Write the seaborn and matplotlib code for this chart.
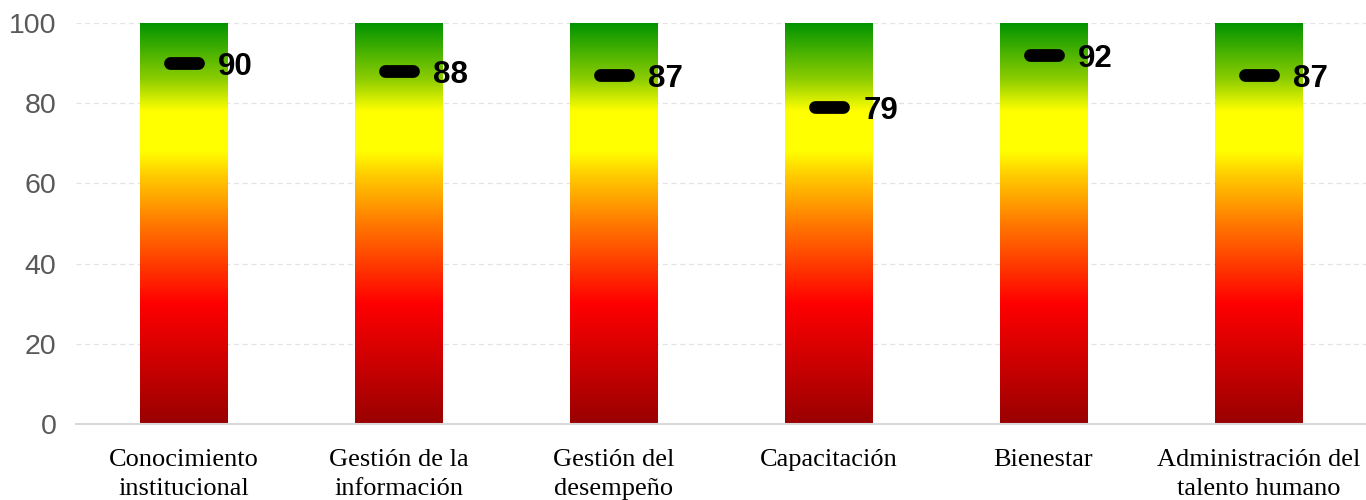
import numpy as np
import pandas as pd
import matplotlib
matplotlib.use("Agg")
import matplotlib.pyplot as plt
from matplotlib.colors import LinearSegmentedColormap
from matplotlib.markers import MarkerStyle
import seaborn as sns

# Dimensions of the talent-management assessment and their scores
categories = [
    "Conocimiento\ninstitucional",
    "Gestión de la\ninformación",
    "Gestión del\ndesempeño",
    "Capacitación",
    "Bienestar",
    "Administración del\ntalento humano",
]
scores = [90, 88, 87, 79, 92, 87]
scale_max = [100, 100, 100, 100, 100, 100]
y_ticks = [0, 20, 40, 60, 80, 100]

df = pd.DataFrame({"categoria": categories, "maximo": scale_max, "puntaje": scores})

sns.set_theme(style="white")
plt.rcParams["font.family"] = ["Liberation Sans", "DejaVu Sans"]

fig = plt.figure(figsize=(13.66, 5.0), dpi=100)
ax = fig.add_axes([76 / 1366, 76 / 500, 1 - 76 / 1366, (424 - 23) / 500])

# Background bars spanning the full scale; they hold the colour gradient
sns.barplot(data=df, x="categoria", y="maximo", ax=ax, width=0.405,
            color="white", edgecolor="none", zorder=2)

# Traffic-light gradient: dark red at 0, red, orange, yellow, green at 100
stops = [
    (0.00, "#990000"),
    (0.30, "#ff0000"),
    (0.50, "#ff7a00"),
    (0.62, "#ffcc00"),
    (0.68, "#ffff00"),
    (0.78, "#ffff00"),
    (0.86, "#8ccd00"),
    (1.00, "#009400"),
]
cmap = LinearSegmentedColormap.from_list("semaforo", stops)
grad = np.linspace(0, 1, 512).reshape(-1, 1)

for patch in ax.patches:
    x0, w = patch.get_x(), patch.get_width()
    y0, h = patch.get_y(), patch.get_height()
    im = ax.imshow(grad, cmap=cmap, origin="lower", aspect="auto",
                   extent=(x0, x0 + w, y0, y0 + h), zorder=3,
                   interpolation="bilinear")
    im.set_clip_path(patch)

# Score markers: thick black rounded dashes
dash = MarkerStyle("_", capstyle="round")
xs = np.arange(len(categories))
ax.plot(xs, df["puntaje"], linestyle="none", marker=dash, markersize=20,
        markeredgewidth=9.2, color="black", zorder=5)

for x, v in zip(xs, df["puntaje"]):
    ax.annotate(f"{v}", xy=(x, v), xytext=(25, -2.5), textcoords="offset points",
                ha="left", va="center", fontsize=22.5, fontweight="bold",
                color="black", zorder=6)

ax.set_xlim(-0.5, len(categories) - 0.5)
ax.set_ylim(0, 100)
ax.set_yticks(y_ticks)
ax.set_xlabel("")
ax.set_ylabel("")

# Horizontal dashed gridlines
for t in y_ticks[1:]:
    ax.axhline(t, color="#e3e3e3", linestyle=(0, (4, 3)), linewidth=0.9, zorder=1)

for side in ["top", "right", "left"]:
    ax.spines[side].set_visible(False)
ax.spines["bottom"].set_color("#d9d9d9")
ax.spines["bottom"].set_linewidth(1.5)
ax.spines["bottom"].set_zorder(4)

ax.tick_params(axis="y", length=0, pad=14, labelsize=20.5, labelcolor="#595959")
ax.tick_params(axis="x", length=0, pad=18, labelsize=19)
for lab in ax.get_xticklabels():
    lab.set_family(["Liberation Serif", "DejaVu Serif"])
    lab.set_color("black")
    lab.set_linespacing(1.4)

fig.savefig("out.png", dpi=100)
